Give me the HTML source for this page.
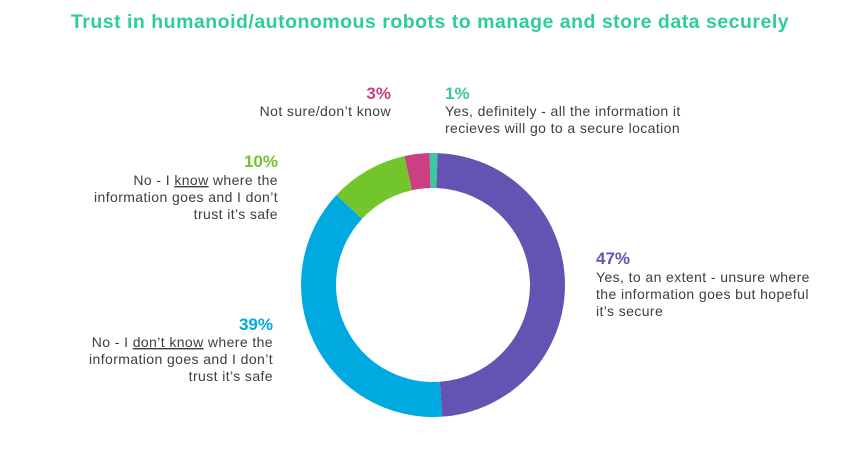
<!DOCTYPE html>
<html><head><meta charset="utf-8"><style>
body{margin:0;background:#fff;}
svg text{font-family:"Liberation Sans",sans-serif;}
.l{font-size:14px;letter-spacing:0.4px;fill:#3a3f42;}
.p{font-size:17px;font-weight:bold;}
</style></head><body>
<svg id="s" width="860" height="455" viewBox="0 0 860 455" xmlns="http://www.w3.org/2000/svg">
<text x="430" y="28" text-anchor="middle" style="font-size:19.5px;font-weight:bold;fill:#2ecc9a;letter-spacing:0.5px">Trust in humanoid/autonomous robots to manage and store data securely</text>
<g id="ring"></g>
<text class="p" x="391" y="99" text-anchor="end" fill="#cc3f85">3%</text>
<text class="l" x="391" y="116" text-anchor="end">Not sure/don’t know</text>
<text class="p" x="445" y="99" fill="#36c99a">1%</text>
<text class="l" x="445" y="116">Yes, definitely - all the information it</text>
<text class="l" x="445" y="133">recieves will go to a secure location</text>
<text class="p" x="278" y="167" text-anchor="end" fill="#72c62c">10%</text>
<text class="l" x="278" y="185" text-anchor="end">No - I <tspan text-decoration="underline">know</tspan> where the</text>
<text class="l" x="278" y="202" text-anchor="end">information goes and I don’t</text>
<text class="l" x="278" y="219" text-anchor="end">trust it’s safe</text>
<text class="p" x="273" y="330" text-anchor="end" fill="#00a9e0">39%</text>
<text class="l" x="273" y="347" text-anchor="end">No - I <tspan text-decoration="underline">don’t know</tspan> where the</text>
<text class="l" x="273" y="364" text-anchor="end">information goes and I don’t</text>
<text class="l" x="273" y="381" text-anchor="end">trust it’s safe</text>
<text class="p" x="596" y="264" fill="#6553b3">47%</text>
<text class="l" x="596" y="282">Yes, to an extent - unsure where</text>
<text class="l" x="596" y="299">the information goes but hopeful</text>
<text class="l" x="596" y="316">it’s secure</text>
</svg>
<script>
var cx=433,cy=285,R=132,r=97;
var segs=[[-1.5,2,"#3cc9a0"],[2,176,"#6553b3"],[176,313,"#00a9e0"],[313,347.5,"#72c62c"],[347.5,358.5,"#cc3f85"]];
function pt(a,rad){a=a*Math.PI/180;return [cx+rad*Math.sin(a),cy-rad*Math.cos(a)];}
var g=document.getElementById("ring"),h="";
segs.forEach(function(s){var a=s[0],b=s[1],L=(b-a)>180?1:0;
var p1=pt(a,R),p2=pt(b,R),p3=pt(b,r),p4=pt(a,r);
h+='<path fill="'+s[2]+'" d="M'+p1+' A'+R+' '+R+' 0 '+L+' 1 '+p2+' L'+p3+' A'+r+' '+r+' 0 '+L+' 0 '+p4+' Z"/>';});
g.innerHTML=h;
</script>
</body></html>
